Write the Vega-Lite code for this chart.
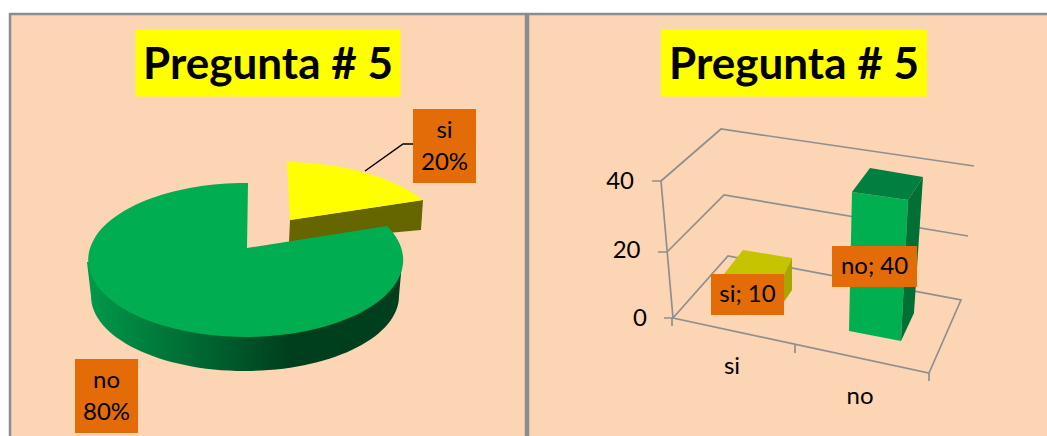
{
"$schema":"https://vega.github.io/schema/vega-lite/v6.json",
"background":"white",
"padding":{"left":8,"top":12,"right":0,"bottom":0},
"bounds":"flush",
"datasets":{
"respuestas":[
{"respuesta":"si","valor":10,"torta":"si\n20%","barra":"si; 10"},
{"respuesta":"no","valor":40,"torta":"no\n80%","barra":"no; 40"}],
"eje":[{"v":0},{"v":20},{"v":40}],
"titulo":[{"titulo":"Pregunta # 5","numero":5}]
},
"spacing":2,
"hconcat":[
{
"width":516,"height":426,
"view":{"fill":"#FCD5B5","stroke":"#8c8c8c","strokeWidth":2.5},
"resolve":{"scale":{"x":"independent","y":"independent"}},
"layer":[
{"data":{"name":"titulo"},
"encoding":{
"x":{"field":"numero","type":"quantitative","axis":null,"scale":{"domain":[0,5],"range":[0,258]}},
"y":{"field":"numero","type":"quantitative","axis":null,"scale":{"domain":[0,5],"range":[0,49]}}},
"layer":[
{"mark":{"type":"point","shape":"M-132.5,-33.5 L132.5,-33.5 L132.5,33.5 L-132.5,33.5 Z","size":4,"filled":true,"fill":"#FFFF00","opacity":1}},
{"mark":{"type":"text","font":"Lato","fontWeight":"bold","fontSize":44,"dy":3,"fill":"black","align":"center","baseline":"middle"},"encoding":{"text":{"field":"titulo"}}}
]},
{"data":{"name":"respuestas"},
"encoding":{
"x":{"field":"valor","type":"quantitative","axis":null,"scale":{"domain":[10,40],"range":[280,237]}},
"y":{"field":"valor","type":"quantitative","axis":null,"scale":{"domain":[10,40],"range":[206,234]}}},
"layer":[
{"transform":[{"filter":"datum.respuesta==='si'"}],"mark":{"type":"point","shape":"M0,0 L133,-20 L131,10 L-1,22 Z","size":4,"filled":true,"fill":"#666600","opacity":1}},
{"transform":[{"filter":"datum.respuesta==='si'"}],"mark":{"type":"point","shape":"M0,0 L-3,-58 A165,80 0 0 1 133,-20 Z","size":4,"filled":true,"fill":"#FFFF00","opacity":1}},
{"transform":[{"filter":"datum.respuesta==='si'"}],"mark":{"type":"point","shape":"M75,-49 L113,-76 L123,-76","size":4,"filled":false,"fill":null,"stroke":"black","strokeWidth":1.5,"opacity":1}},
{"transform":[{"filter":"datum.respuesta==='no'"}],"mark":{"type":"point","shape":"M-160,14 L-156,48 A154,75 0 0 0 152,48 L155,14 Z","size":4,"filled":true,"opacity":1,"fill":{"gradient":"linear","x1":0,"x2":1,"y1":0,"y2":0,"stops":[{"offset":0,"color":"#009a4a"},{"offset":0.64,"color":"#003f1e"},{"offset":1,"color":"#003f1e"}]}}},
{"transform":[{"filter":"datum.respuesta==='no'"}],"mark":{"type":"point","shape":"M0,0 L1,-65 A157.5,77 0 1 0 140,-22 Z","size":4,"filled":true,"fill":"#00AD50","opacity":1}}
]},
{"data":{"name":"respuestas"},
"encoding":{
"x":{"field":"valor","type":"quantitative","axis":null,"scale":{"domain":[10,40],"range":[434.5,96.5]}},
"y":{"field":"valor","type":"quantitative","axis":null,"scale":{"domain":[10,40],"range":[132,382]}}},
"layer":[
{"mark":{"type":"point","shape":"M-31.5,-37 L31.5,-37 L31.5,37 L-31.5,37 Z","size":4,"filled":true,"fill":"#E36C09","opacity":1}},
{"mark":{"type":"text","font":"Lato","fontSize":24,"lineHeight":32,"lineBreak":"\n","dy":-15,"fill":"black","align":"center","baseline":"middle"},"encoding":{"text":{"field":"torta"}}}
]}
]
},
{
"width":524,"height":426,
"view":{"fill":"#FCD5B5","stroke":"#8c8c8c","strokeWidth":2.5},
"resolve":{"scale":{"x":"independent","y":"independent"}},
"layer":[
{"data":{"name":"titulo"},
"encoding":{
"x":{"field":"numero","type":"quantitative","axis":null,"scale":{"domain":[0,5],"range":[0,266]}},
"y":{"field":"numero","type":"quantitative","axis":null,"scale":{"domain":[0,5],"range":[0,49]}}},
"layer":[
{"mark":{"type":"point","shape":"M-133,-33.5 L133,-33.5 L133,33.5 L-133,33.5 Z","size":4,"filled":true,"fill":"#FFFF00","opacity":1}},
{"mark":{"type":"text","font":"Lato","fontWeight":"bold","fontSize":44,"dy":3,"fill":"black","align":"center","baseline":"middle"},"encoding":{"text":{"field":"titulo"}}}
]},
{"data":{"name":"eje"},
"encoding":{
"x":{"field":"v","type":"quantitative","axis":null,"scale":{"domain":[0,40],"range":[145,145]}},
"y":{"field":"v","type":"quantitative","axis":null,"scale":{"domain":[0,40],"range":[304,304]}}},
"transform":[{"filter":"datum.v===0"}],
"mark":{"type":"point","size":4,"filled":false,"fill":null,"stroke":"#8f8f8f","strokeWidth":1.7,"opacity":1,
"shape":"M0,0 L55,-62 L288,-18 L256,55 Z M-6,-66 L51,-123 L295,-82 M-12,-137 L48,-189 L301,-152 M-12,-137 L0,0 M-21,-137 L-12,-137 M-15,-66 L-6,-66 M-9,0 L0,0 M-1,0 L-1,8 M122,27 L122,35 M256,55 L256,63"}},
{"data":{"name":"eje"},
"mark":{"type":"text","font":"Lato","fontSize":24,"fill":"black","align":"right","baseline":"middle"},
"encoding":{
"x":{"field":"v","type":"quantitative","axis":null,"scale":{"domain":[0,40],"range":[119,106]}},
"y":{"field":"v","type":"quantitative","axis":null,"scale":{"domain":[0,40],"range":[305,168]}},
"text":{"field":"v","type":"quantitative"}}},
{"data":{"name":"respuestas"},
"mark":{"type":"text","font":"Lato","fontSize":24,"fill":"black","align":"center","baseline":"middle"},
"encoding":{
"x":{"field":"valor","type":"quantitative","axis":null,"scale":{"domain":[10,40],"range":[204,332]}},
"y":{"field":"valor","type":"quantitative","axis":null,"scale":{"domain":[10,40],"range":[353,383]}},
"text":{"field":"respuesta"}}},
{"data":{"name":"respuestas"},
"encoding":{
"x":{"field":"valor","type":"quantitative","axis":null,"scale":{"domain":[10,40],"range":[196,324]}},
"y":{"field":"valor","type":"quantitative","axis":null,"scale":{"domain":[10,40],"range":[260,178]}}},
"layer":[
{"transform":[{"filter":"datum.respuesta==='si'"}],"mark":{"type":"point","shape":"M0,0 L59,3 L51,41 L-4,30 Z","size":4,"filled":true,"fill":"#FFFF00","opacity":1}},
{"transform":[{"filter":"datum.respuesta==='si'"}],"mark":{"type":"point","shape":"M0,0 L19,-24 L68,-16 L59,3 Z","size":4,"filled":true,"fill":"#C6C300","opacity":1}},
{"transform":[{"filter":"datum.respuesta==='si'"}],"mark":{"type":"point","shape":"M59,3 L68,-16 L68,16 L51,41 Z","size":4,"filled":true,"fill":"#A8A600","opacity":1}},
{"transform":[{"filter":"datum.respuesta==='no'"}],"mark":{"type":"point","shape":"M0,0 L56,8 L49,149 L-3,139 Z","size":4,"filled":true,"fill":"#00B050","opacity":1}},
{"transform":[{"filter":"datum.respuesta==='no'"}],"mark":{"type":"point","shape":"M0,0 L18,-24 L71,-15 L56,8 Z","size":4,"filled":true,"fill":"#008040","opacity":1}},
{"transform":[{"filter":"datum.respuesta==='no'"}],"mark":{"type":"point","shape":"M56,8 L71,-15 L62,121 L49,149 Z","size":4,"filled":true,"fill":"#007035","opacity":1}}
]},
{"data":{"name":"respuestas"},
"encoding":{
"x":{"field":"valor","type":"quantitative","axis":null,"scale":{"domain":[10,40],"range":[219.5,346.5]}},
"y":{"field":"valor","type":"quantitative","axis":null,"scale":{"domain":[10,40],"range":[280.5,252.5]}}},
"layer":[
{"transform":[{"filter":"datum.respuesta==='si'"}],"mark":{"type":"point","shape":"M-36.5,-20.5 L36.5,-20.5 L36.5,20.5 L-36.5,20.5 Z","size":4,"filled":true,"fill":"#E36C09","opacity":1}},
{"transform":[{"filter":"datum.respuesta==='no'"}],"mark":{"type":"point","shape":"M-42.5,-20.5 L42.5,-20.5 L42.5,20.5 L-42.5,20.5 Z","size":4,"filled":true,"fill":"#E36C09","opacity":1}},
{"mark":{"type":"text","font":"Lato","fontSize":24,"fill":"black","align":"center","baseline":"middle"},"encoding":{"text":{"field":"barra"}}}
]}
]
}
]
}
